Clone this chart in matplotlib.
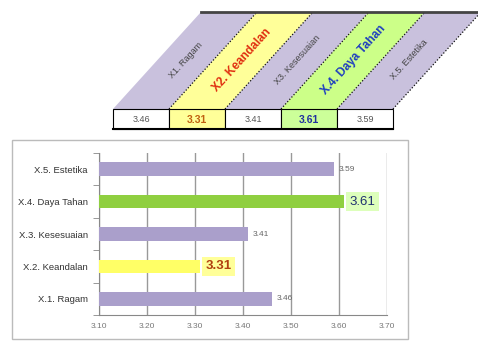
import numpy as np
import matplotlib
matplotlib.use('Agg')
import matplotlib.pyplot as plt
from matplotlib.patches import Polygon, Rectangle

plt.rcParams['font.family'] = ['Liberation Sans', 'DejaVu Sans']

# data
header_labels = ['X1. Ragam', 'X2. Keandalan', 'X3. Kesesuaian', 'X.4. Daya Tahan', 'X.5. Estetika']
header_values = [3.46, 3.31, 3.41, 3.61, 3.59]
bar_labels = ['X.1. Ragam', 'X.2. Keandalan', 'X.3. Kesesuaian', 'X.4. Daya Tahan', 'X.5. Estetika']
bar_values = [3.46, 3.31, 3.41, 3.61, 3.59]
xticks = [3.10, 3.20, 3.30, 3.40, 3.50, 3.60, 3.70]

purple = '#aa9fcb'
band_fill = ['#c9c1dd', '#ffff99', '#c9c1dd', '#ccff88', '#c9c1dd']
cell_fill = ['white', '#ffff99', 'white', '#ccff99', 'white']
head_txt = [('#444444', 'normal', 6.5), ('#e03010', 'bold', 8.5), ('#444444', 'normal', 6.5),
            ('#1f3fbf', 'bold', 8.5), ('#444444', 'normal', 6.5)]
cell_txt = [('#555555', 'normal', 6.5), ('#c06010', 'bold', 7.5), ('#555555', 'normal', 6.5),
            ('#2030a0', 'bold', 7.5), ('#555555', 'normal', 6.5)]
bar_colors = [purple, '#ffff66', purple, '#8fcf40', purple]

fig = plt.figure(figsize=(4.78, 3.41), dpi=100)

# overlay in pixel units for header + frame
ov = fig.add_axes([0, 0, 1, 1])
ov.set_xlim(0, 478)
ov.set_ylim(341, 0)
ov.axis('off')

x0, w = 113, 56
y_top, y_bot, y_tab = 12, 109, 129
shift = 88
angle = np.degrees(np.arctan2(y_bot - y_top, shift))
for i in range(5):
    bl = x0 + i * w
    poly = Polygon([[bl, y_bot], [bl + w, y_bot], [bl + w + shift, y_top], [bl + shift, y_top]],
                   closed=True, facecolor=band_fill[i], edgecolor='none')
    ov.add_patch(poly)
    ov.plot([bl + w, bl + w + shift], [y_bot, y_top], color='#111111', lw=0.9, ls=(0, (1, 1.5)))
    # rotated label
    yc = 60
    xc = bl + w / 2 + (y_bot - yc) * shift / (y_bot - y_top)
    c, fw, fs = head_txt[i]
    ov.text(xc, yc, header_labels[i], rotation=angle,
            ha='center', va='center', color=c, fontweight=fw, fontsize=fs)
    # table cell
    ov.add_patch(Rectangle((bl, y_bot), w, y_tab - y_bot, facecolor=cell_fill[i],
                           edgecolor='black', lw=0.8))
    c, fw, fs = cell_txt[i]
    ov.text(bl + w / 2, (y_bot + y_tab) / 2 + 1, '%.2f' % header_values[i], ha='center', va='center',
            color=c, fontweight=fw, fontsize=fs)
ov.plot([x0, x0 + 5 * w], [y_tab, y_tab], color='black', lw=1.5)
ov.plot([x0 + shift, 478], [y_top, y_top], color='#444444', lw=2)

# chart frame
ov.add_patch(Rectangle((12, 140), 396, 199, facecolor='none', edgecolor='#bbbbbb', lw=1))

# bar chart
ax = fig.add_axes([99 / 478, 26 / 341, 288 / 478, 162 / 341])
ax.set_zorder(2)
ax.patch.set_alpha(0)
y = np.arange(len(bar_labels))
base = xticks[0]
ax.barh(y, np.array(bar_values) - base, left=base, height=0.42, color=bar_colors, zorder=3)
ax.set_xlim(xticks[0], xticks[-1])
ax.set_ylim(-0.5, 4.5)
ax.set_xticks(xticks)
ax.set_xticklabels(['%.2f' % t for t in xticks], fontsize=6, color='#777777')
ax.set_yticks(y)
ax.set_yticklabels(bar_labels, fontsize=6.8, color='#333333')
ax.set_yticks(np.arange(-0.5, 5, 1), minor=True)
ax.tick_params(axis='y', which='major', length=0, pad=8)
ax.tick_params(axis='y', which='minor', length=4, color='#888888', direction='out')
ax.tick_params(axis='x', length=0, pad=6)
ax.grid(axis='x', color='#999999', lw=1, zorder=0)
for s in ['top', 'right']:
    ax.spines[s].set_visible(False)
for s in ['left', 'bottom']:
    ax.spines[s].set_color('#888888')

for i, v in enumerate(bar_values):
    if bar_labels[i].startswith('X.4'):
        ax.text(v + 0.012, i, '%.2f' % v, va='center', ha='left', fontsize=9.5, color='#1f2f6f',
                bbox=dict(facecolor='#ddffbb', edgecolor='none', pad=2.5), zorder=4)
    elif bar_labels[i].startswith('X.2'):
        ax.text(v + 0.012, i, '%.2f' % v, va='center', ha='left', fontsize=9.5, color='#b04010',
                fontweight='bold', bbox=dict(facecolor='#ffff99', edgecolor='none', pad=2.5), zorder=4)
    else:
        ax.text(v + 0.01, i, '%.2f' % v, va='center', ha='left', fontsize=6, color='#666666', zorder=4)

plt.savefig('out.png', dpi=100)
